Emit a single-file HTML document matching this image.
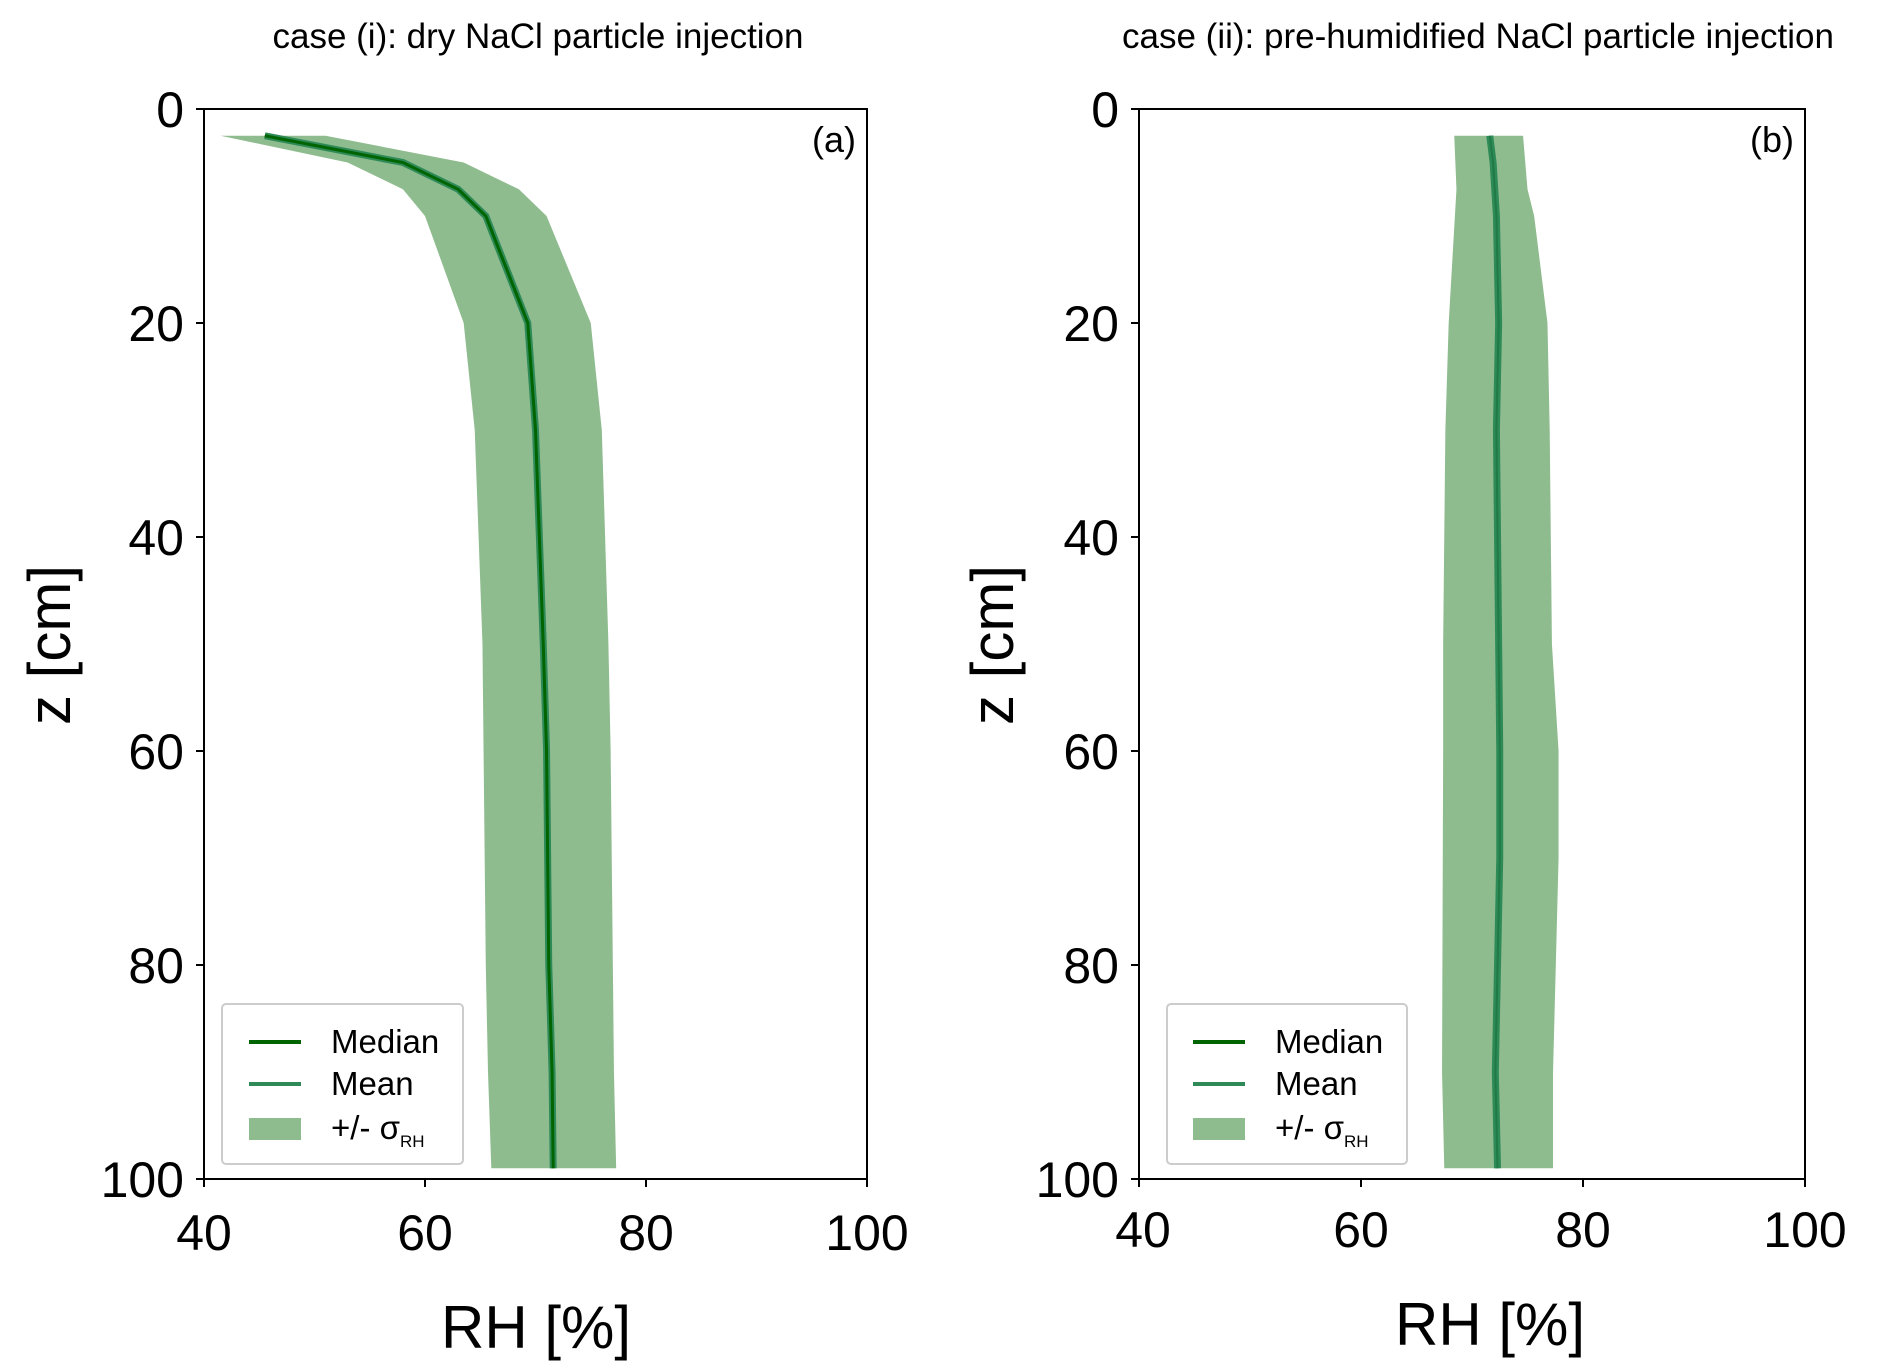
<!DOCTYPE html>
<html><head><meta charset="utf-8"><style>
html,body{margin:0;padding:0;background:#fff;}
svg{display:block;font-family:"Liberation Sans Narrow","Liberation Sans",sans-serif;}
</style></head><body>
<svg width="1892" height="1369" viewBox="0 0 1892 1369" xmlns="http://www.w3.org/2000/svg">
<rect width="1892" height="1369" fill="#fff"/>
<!-- Panel a -->
<text x="538" y="48" font-size="35" text-anchor="middle">case (i): dry NaCl particle injection</text>
<g transform="translate(204,109) scale(11.05,10.70) translate(-40,0)">
<polygon fill="#8fbc8f" points="41.5,2.5 51,2.5 63.5,5 68.5,7.5 71,10 75,20 76,30 76.6,50 76.8,60 77,80 77.1,90 77.3,99 66,99 65.7,90 65.5,80 65.3,60 65.2,50 64.5,30 63.5,20 60,10 58,7.5 53,5"/>
<polyline fill="none" stroke="#2e8b57" stroke-width="7" vector-effect="non-scaling-stroke" points="45.5,2.5 58,5 63,7.5 65.5,10 69.3,20 70,30 70.7,50 71,60 71.2,80 71.5,90 71.6,99"/>
<polyline fill="none" stroke="#006400" stroke-width="3" vector-effect="non-scaling-stroke" points="45.5,2.5 58,5 63,7.5 65.5,10 69.3,20 70,30 70.7,50 71,60 71.2,80 71.5,90 71.6,99"/>
</g>
<rect x="204" y="109" width="663" height="1070" fill="none" stroke="#000" stroke-width="2"/>
<g stroke="#000" stroke-width="2">
<line x1="196" y1="109" x2="204" y2="109"/><line x1="196" y1="323" x2="204" y2="323"/><line x1="196" y1="537" x2="204" y2="537"/><line x1="196" y1="751" x2="204" y2="751"/><line x1="196" y1="965" x2="204" y2="965"/><line x1="196" y1="1179" x2="204" y2="1179"/>
<line x1="204" y1="1179" x2="204" y2="1187"/><line x1="425" y1="1179" x2="425" y2="1187"/><line x1="646" y1="1179" x2="646" y2="1187"/><line x1="867" y1="1179" x2="867" y2="1187"/>
</g>
<g font-size="50" text-anchor="end">
<text x="184" y="127">0</text><text x="184" y="341">20</text><text x="184" y="555">40</text><text x="184" y="769">60</text><text x="184" y="983">80</text><text x="184" y="1197">100</text>
</g>
<g font-size="50" text-anchor="middle">
<text x="204" y="1250">40</text><text x="425" y="1250">60</text><text x="646" y="1250">80</text><text x="867" y="1250">100</text>
</g>
<text x="536" y="1348" font-size="60" text-anchor="middle">RH [%]</text>
<text transform="translate(70,645) rotate(-90)" font-size="60" text-anchor="middle">z [cm]</text>
<text x="856" y="152" font-size="36" text-anchor="end">(a)</text>
<rect x="222" y="1004" width="241" height="160" rx="4" fill="#fff" fill-opacity="0.85" stroke="#ccc" stroke-width="2"/>
<line x1="249" y1="1042" x2="301" y2="1042" stroke="#006400" stroke-width="4"/>
<line x1="249" y1="1084" x2="301" y2="1084" stroke="#2e8b57" stroke-width="4"/>
<rect x="249" y="1118" width="52" height="22" fill="#8fbc8f"/>
<g font-size="33"><text x="331" y="1053">Median</text><text x="331" y="1095">Mean</text><text x="331" y="1139">+/- σ<tspan font-size="17" dy="8">RH</tspan></text></g>

<!-- Panel b -->
<text x="1478" y="48" font-size="35" text-anchor="middle">case (ii): pre-humidified NaCl particle injection</text>
<g transform="translate(1139,109) scale(11.1,10.70) translate(-40,0)">
<polygon fill="#8fbc8f" points="68.4,2.5 74.6,2.5 75,7.5 75.6,10 76.8,20 77,30 77.2,50 77.8,60 77.8,70 77.3,90 77.3,99 67.5,99 67.3,90 67.4,60 67.4,50 67.6,30 67.9,20 68.6,7.5"/>
<polyline fill="none" stroke="#2e8b57" stroke-width="7" vector-effect="non-scaling-stroke" points="71.6,2.5 71.9,5 72.2,10 72.4,20 72.2,30 72.5,60 72.5,70 72.3,80 72.1,90 72.3,99"/>
<polyline fill="none" stroke="#1f7a45" stroke-width="2" vector-effect="non-scaling-stroke" points="71.6,2.5 71.9,5 72.2,10 72.4,20 72.2,30 72.5,60 72.5,70 72.3,80 72.1,90 72.3,99"/>
</g>
<rect x="1139" y="109" width="666" height="1070" fill="none" stroke="#000" stroke-width="2"/>
<g stroke="#000" stroke-width="2">
<line x1="1131" y1="109" x2="1139" y2="109"/><line x1="1131" y1="323" x2="1139" y2="323"/><line x1="1131" y1="537" x2="1139" y2="537"/><line x1="1131" y1="751" x2="1139" y2="751"/><line x1="1131" y1="965" x2="1139" y2="965"/><line x1="1131" y1="1179" x2="1139" y2="1179"/>
<line x1="1139" y1="1179" x2="1139" y2="1187"/><line x1="1361" y1="1179" x2="1361" y2="1187"/><line x1="1583" y1="1179" x2="1583" y2="1187"/><line x1="1805" y1="1179" x2="1805" y2="1187"/>
</g>
<g font-size="50" text-anchor="end">
<text x="1119" y="127">0</text><text x="1119" y="341">20</text><text x="1119" y="555">40</text><text x="1119" y="769">60</text><text x="1119" y="983">80</text><text x="1119" y="1197">100</text>
</g>
<g font-size="50" text-anchor="middle">
<text x="1143" y="1247">40</text><text x="1361" y="1247">60</text><text x="1583" y="1247">80</text><text x="1805" y="1247">100</text>
</g>
<text x="1490" y="1345" font-size="60" text-anchor="middle">RH [%]</text>
<text transform="translate(1013,645) rotate(-90)" font-size="60" text-anchor="middle">z [cm]</text>
<text x="1794" y="152" font-size="36" text-anchor="end">(b)</text>
<rect x="1167" y="1004" width="240" height="160" rx="4" fill="#fff" fill-opacity="0.85" stroke="#ccc" stroke-width="2"/>
<line x1="1193" y1="1042" x2="1245" y2="1042" stroke="#006400" stroke-width="4"/>
<line x1="1193" y1="1084" x2="1245" y2="1084" stroke="#2e8b57" stroke-width="4"/>
<rect x="1193" y="1118" width="52" height="22" fill="#8fbc8f"/>
<g font-size="33"><text x="1275" y="1053">Median</text><text x="1275" y="1095">Mean</text><text x="1275" y="1139">+/- σ<tspan font-size="17" dy="8">RH</tspan></text></g>
</svg>
</body></html>
